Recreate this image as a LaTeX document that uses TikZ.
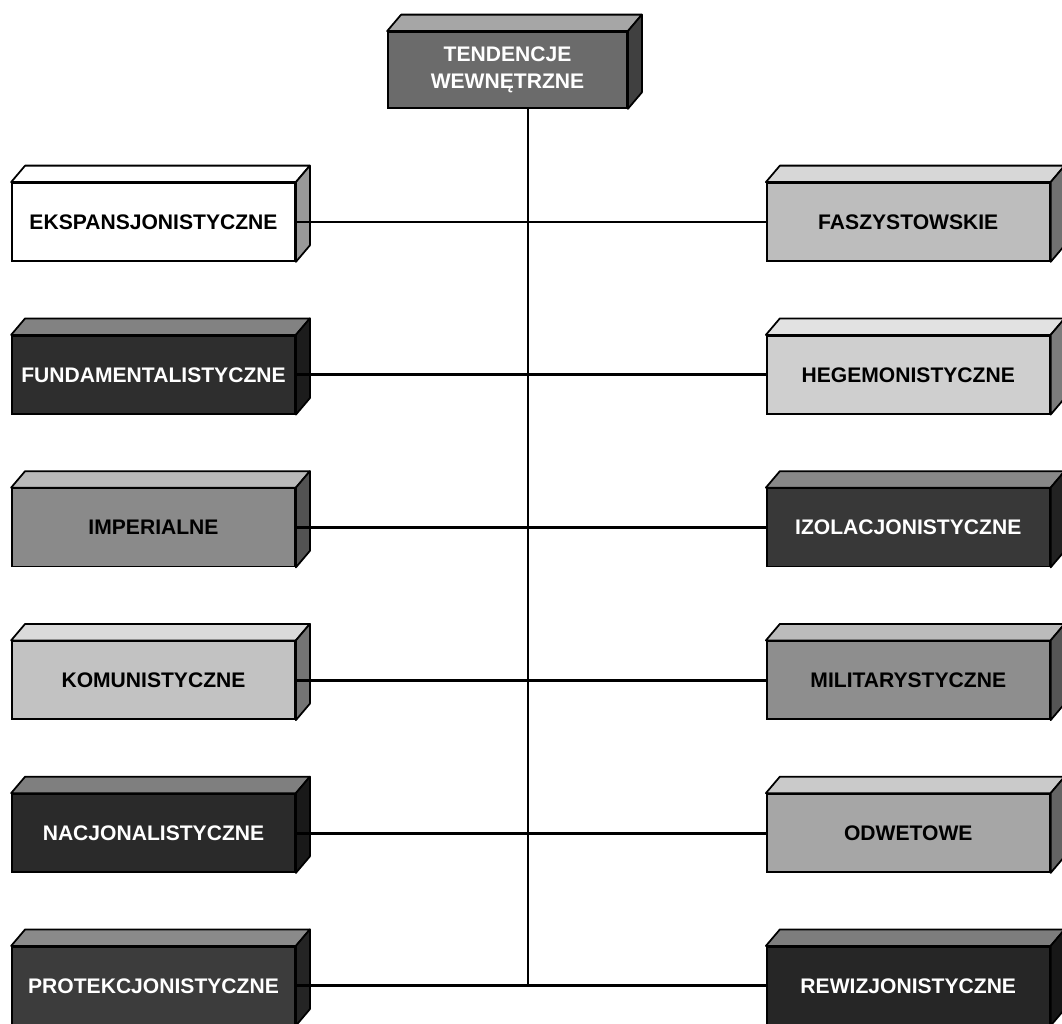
\documentclass[tikz,border=0pt]{standalone}
\usepackage{fontspec}
\setmainfont{Liberation Sans}
\usetikzlibrary{positioning}
\definecolor{cTop}{HTML}{6b6b6b}
\definecolor{cBiel}{HTML}{ffffff}
\definecolor{cFas}{HTML}{bdbdbd}
\definecolor{cFun}{HTML}{2e2e2e}
\definecolor{cHeg}{HTML}{cfcfcf}
\definecolor{cImp}{HTML}{8a8a8a}
\definecolor{cIzo}{HTML}{383838}
\definecolor{cKom}{HTML}{c2c2c2}
\definecolor{cMil}{HTML}{8e8e8e}
\definecolor{cNac}{HTML}{2a2a2a}
\definecolor{cOdw}{HTML}{a6a6a6}
\definecolor{cPro}{HTML}{3c3c3c}
\definecolor{cRew}{HTML}{262626}
\tikzset{
  blok/.style={draw,line width=1pt,minimum width=5.66cm,minimum height=1.56cm,
               align=center,inner sep=2pt,font=\bfseries\fontsize{12}{15.5}\selectfont},
  bjas/.style={blok,fill=#1,text=black},
  bciem/.style={blok,fill=#1,text=white},
  linia/.style={line width=1.7pt},
  sciana/.style={draw,line width=1pt,line join=round},
}

\begin{document}
\begin{tikzpicture}[node distance=1.46cm and 9.4cm]
  \useasboundingbox (0,0) rectangle (21.24,-20.46);
  \node[bciem=cTop,minimum width=4.78cm,minimum height=1.52cm] (tw) at (10.15,-1.40)
       {TENDENCJE\\WEWNĘTRZNE};
  % lewa kolumna
  \node[bjas=cBiel] (eks) at (3.07,-4.44) {EKSPANSJONISTYCZNE};
  \node[bciem=cFun,below=of eks] (fun) {FUNDAMENTALISTYCZNE};
  \node[bjas=cImp,below=of fun] (imp) {IMPERIALNE};
  \node[bjas=cKom,below=of imp] (kom) {KOMUNISTYCZNE};
  \node[bciem=cNac,below=of kom] (nac) {NACJONALISTYCZNE};
  \node[bciem=cPro,below=of nac] (pro) {PROTEKCJONISTYCZNE};
  % prawa kolumna
  \node[bjas=cFas,right=of eks] (fas) {FASZYSTOWSKIE};
  \node[bjas=cHeg,right=of fun] (heg) {HEGEMONISTYCZNE};
  \node[bciem=cIzo,right=of imp] (izo) {IZOLACJONISTYCZNE};
  \node[bjas=cMil,right=of kom] (mil) {MILITARYSTYCZNE};
  \node[bjas=cOdw,right=of nac] (odw) {ODWETOWE};
  \node[bciem=cRew,right=of pro] (rew) {REWIZJONISTYCZNE};
  % sciany 3D
  \foreach \n/\c in {tw/cTop,eks/cBiel,fun/cFun,imp/cImp,kom/cKom,nac/cNac,pro/cPro,
                     fas/cFas,heg/cHeg,izo/cIzo,mil/cMil,odw/cOdw,rew/cRew}{
    \path[sciana,fill=\c!60!white] (\n.north west) -- ++(0.28,0.33)
         -- ([shift={(0.28,0.33)}]\n.north east) -- (\n.north east) -- cycle;
    \path[sciana,fill=\c!60!black] (\n.north east) -- ([shift={(0.28,0.33)}]\n.north east)
         -- ([shift={(0.28,0.33)}]\n.south east) -- (\n.south east) -- cycle;
  }
  % polaczenia
  \coordinate (pien) at (10.56,0);
  \draw[linia] (tw.south -| pien) -- (pro -| pien);
  \foreach \l/\r in {eks/fas,fun/heg,imp/izo,kom/mil,nac/odw,pro/rew}
    \draw[linia] (\l) -- (\r);
\end{tikzpicture}
\end{document}
